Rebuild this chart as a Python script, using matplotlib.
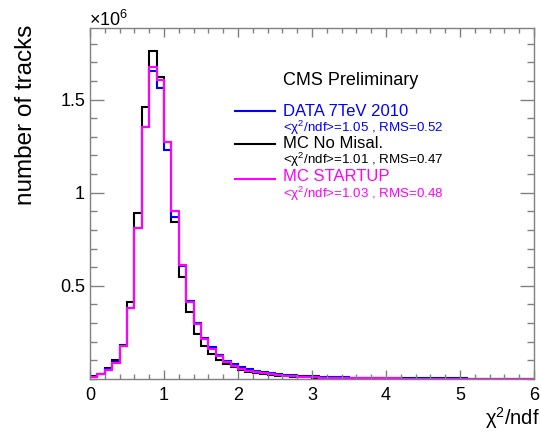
import matplotlib
matplotlib.use("Agg")
import matplotlib.pyplot as plt
from matplotlib.lines import Line2D
from matplotlib.ticker import MultipleLocator, FixedLocator
import numpy as np

plt.rcParams['font.family'] = ['Liberation Sans', 'DejaVu Sans']
plt.rcParams['mathtext.fontset'] = 'custom'
plt.rcParams['mathtext.rm'] = 'Liberation Sans'
plt.rcParams['mathtext.it'] = 'Liberation Sans'
plt.rcParams['mathtext.bf'] = 'Liberation Sans:bold'

# ---- data (counts in units of 1e6), bins of 0.1 from 0 to 6 ----
bin_edges = [round(0.1 * i, 1) for i in range(61)]

data_7tev = [0.012, 0.027, 0.052, 0.090, 0.177, 0.380, 0.810, 1.350, 1.655, 1.560,
             1.230, 0.868, 0.605, 0.420, 0.300, 0.222, 0.170, 0.130, 0.098, 0.078,
             0.062, 0.052, 0.043, 0.036, 0.031, 0.027, 0.023, 0.020, 0.018, 0.016,
             0.014, 0.012, 0.011, 0.010, 0.009, 0.008, 0.0075, 0.007, 0.0065, 0.006,
             0.0055, 0.005, 0.0047, 0.0044, 0.0041, 0.0038, 0.0035, 0.0033, 0.0031, 0.0029,
             0.0027, 0.0026, 0.0025, 0.0024, 0.0023, 0.0022, 0.0021, 0.0020, 0.0019, 0.0018]

mc_nomisal = [0.014, 0.027, 0.058, 0.100, 0.185, 0.415, 0.893, 1.460, 1.760, 1.622,
              1.270, 0.842, 0.550, 0.360, 0.244, 0.178, 0.134, 0.100, 0.078, 0.062,
              0.048, 0.040, 0.033, 0.027, 0.022, 0.018, 0.015, 0.013, 0.011, 0.009,
              0.008, 0.007, 0.006, 0.0052, 0.0045, 0.004, 0.0035, 0.0031, 0.0028, 0.0025,
              0.0022, 0.002, 0.0018, 0.0016, 0.0015, 0.0014, 0.0013, 0.0012, 0.0011, 0.001,
              0.0009, 0.0009, 0.0008, 0.0008, 0.0007, 0.0007, 0.0006, 0.0006, 0.0005, 0.0005]

mc_startup = [0.012, 0.025, 0.050, 0.085, 0.175, 0.380, 0.810, 1.355, 1.675, 1.605,
              1.270, 0.900, 0.612, 0.415, 0.293, 0.214, 0.162, 0.122, 0.090, 0.068,
              0.052, 0.043, 0.036, 0.030, 0.025, 0.021, 0.018, 0.015, 0.013, 0.011,
              0.009, 0.008, 0.007, 0.006, 0.0055, 0.005, 0.0045, 0.0041, 0.0037, 0.0034,
              0.0031, 0.0028, 0.0026, 0.0024, 0.0022, 0.002, 0.0018, 0.0017, 0.0016, 0.0015,
              0.0014, 0.0013, 0.0012, 0.0011, 0.001, 0.001, 0.0009, 0.0009, 0.0008, 0.0008]

series_names = ["DATA 7TeV 2010", "MC No Misal.", "MC STARTUP"]
series_stats = ["<χ$^{2}$/ndf>=1.05 , RMS=0.52",
                "<χ$^{2}$/ndf>=1.01 , RMS=0.47",
                "<χ$^{2}$/ndf>=1.03 , RMS=0.48"]
series_colors = ["#0000ff", "#000000", "#ff00ff"]

x_ticks = [0, 1, 2, 3, 4, 5, 6]
y_ticks = [0.5, 1.0, 1.5]
y_ticklabels = ["0.5", "1", "1.5"]

W, H = 541, 433
fig = plt.figure(figsize=(W / 100, H / 100), dpi=100)
ax = fig.add_axes([90 / W, 54 / H, 444 / W, 351 / H])

lw = 1.5
ax.stairs(mc_nomisal, bin_edges, color=series_colors[1], lw=lw, baseline=None)
ax.stairs(data_7tev, bin_edges, color=series_colors[0], lw=lw, baseline=None)
ax.stairs(mc_startup, bin_edges, color=series_colors[2], lw=lw, baseline=None)

ax.set_xlim(0, 6)
ax.set_ylim(0, 1.884)

ax.xaxis.set_major_locator(FixedLocator(x_ticks))
ax.xaxis.set_minor_locator(MultipleLocator(0.2))
ax.yaxis.set_major_locator(FixedLocator(y_ticks))
ax.yaxis.set_minor_locator(MultipleLocator(0.1))
ax.set_xticklabels([str(v) for v in x_ticks])
ax.set_yticklabels(y_ticklabels)

axis_gray = "#808080"
for sp in ax.spines.values():
    sp.set_color(axis_gray)
    sp.set_linewidth(1.0)

ax.tick_params(axis='x', which='major', direction='in', length=6.5, width=1,
               color=axis_gray, top=True, labelsize=13, pad=5.5)
ax.tick_params(axis='x', which='minor', direction='in', length=3.3, width=1,
               color=axis_gray, top=True)
ax.tick_params(axis='y', which='major', direction='in', length=10, width=1,
               color=axis_gray, right=True, labelsize=13, pad=3.6)
ax.tick_params(axis='y', which='minor', direction='in', length=5, width=1,
               color=axis_gray, right=True)

# multiplier
fig.text(89 / W, 1 - 26 / H, "×10$^{6}$", fontsize=13, ha='left', va='baseline')

# axis titles
fig.text(540 / W, 1 - 424.5 / H, "χ$^{2}$/ndf", fontsize=14.5, ha='right', va='baseline')
fig.text(26 / W, 1 - 25 / H, "number of tracks", fontsize=17.5, rotation=90,
         ha='center', va='top')

# legend
fig.text(283 / W, 1 - 85 / H, "CMS Preliminary", fontsize=13, ha='left', va='baseline')
name_base = [116.0, 148.0, 181.0]
stat_base = [132.0, 164.5, 198.0]
line_y = [110.7, 144.0, 179.0]
for name, stat, col, nb, sb, ly in zip(series_names, series_stats, series_colors,
                                       name_base, stat_base, line_y):
    fig.text(283 / W, 1 - nb / H, name, fontsize=12.0, color=col, ha='left', va='baseline')
    fig.text(283 / W, 1 - sb / H, stat, fontsize=9.6, color=col, ha='left', va='baseline')
    fig.add_artist(Line2D([235 / W, 275 / W], [1 - ly / H, 1 - ly / H],
                          transform=fig.transFigure, color=col, lw=lw))

fig.savefig("out.png", dpi=100)
